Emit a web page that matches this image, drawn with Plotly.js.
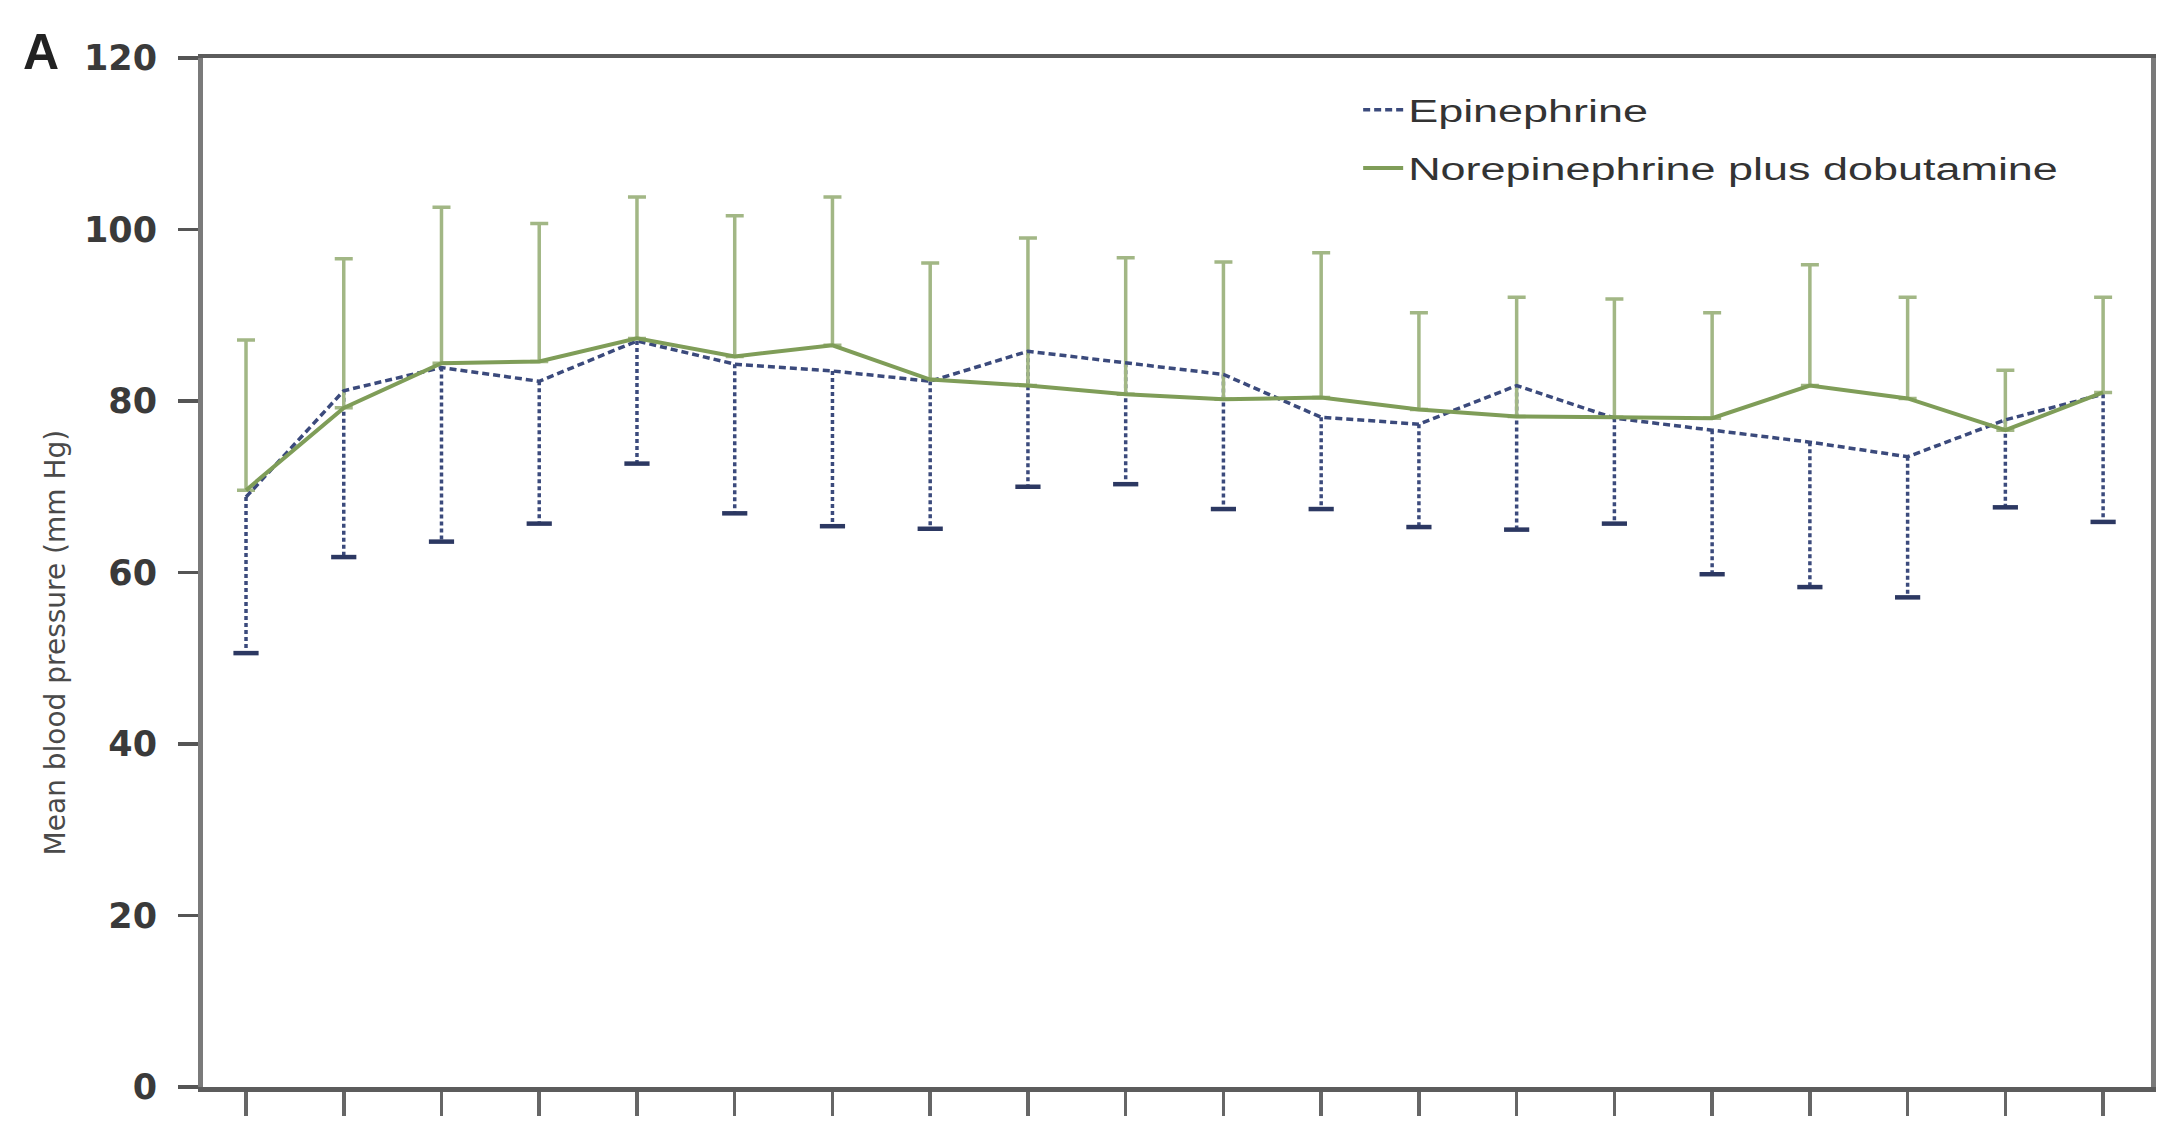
<!DOCTYPE html>
<html>
<head>
<meta charset="utf-8">
<script src="https://cdn.plot.ly/plotly-3.0.1.min.js"></script>
<style>html,body{margin:0;padding:0;background:#fff;}#chart{width:2179px;height:1128px;}</style>
</head>
<body>
<div id="chart"></div>
<script>
// Time points (tick labels are cut off in the reference)
const timePoints = [0, 1, 2, 3, 4, 5, 6, 7, 8, 9, 10, 11, 12, 13, 14, 15, 16, 17, 18, 19];

// Epinephrine: mean and SD (drawn downward)
const epiMean = [68.8, 81.2, 83.9, 82.3, 87.0, 84.3, 83.5, 82.3, 85.8, 84.4, 83.1, 78.1, 77.3, 81.8, 78.0, 76.6, 75.2, 73.5, 77.8, 80.8];
const epiSD   = [18.2, 19.4, 20.3, 16.6, 14.3, 17.4, 18.1, 17.2, 15.8, 14.1, 15.7, 10.7, 12.0, 16.8, 12.3, 16.8, 16.9, 16.4, 10.2, 14.9];

// Norepinephrine plus dobutamine: mean and SD (drawn upward)
const nedMean = [69.6, 79.2, 84.4, 84.6, 87.3, 85.2, 86.5, 82.5, 81.8, 80.8, 80.2, 80.4, 79.0, 78.2, 78.1, 78.0, 81.8, 80.3, 76.6, 81.0];
const nedSD   = [17.5, 17.4, 18.2, 16.1, 16.5, 16.4, 17.3, 13.6, 17.2, 15.9, 16.0, 16.9, 11.3, 13.9, 13.8, 12.3, 14.1, 11.8, 7.0, 11.1];

const yTicks = [0, 20, 40, 60, 80, 100, 120];

const BLUE = '#3b4a7c';
const BLUE_CAP = '#2c3862';
const GREEN = '#7f9d58';
const GREEN_BAR = '#a2b785';

// dashed stems for epinephrine SD (built from the data arrays)
const stemX = [], stemY = [];
timePoints.forEach((t, i) => {
  stemX.push(t, t, null);
  stemY.push(epiMean[i], epiMean[i] - epiSD[i], null);
});
const capY = epiMean.map((m, i) => m - epiSD[i]);

const FONT = 'Liberation Sans, Arial, sans-serif';
const WIDE = 'DejaVu Sans, Liberation Sans, sans-serif';

const traces = [
  {
    x: stemX, y: stemY, mode: 'lines', type: 'scatter', showlegend: false, hoverinfo: 'skip',
    line: {color: BLUE, width: 3.5, dash: '4px,3px'}
  },
  {
    x: timePoints, y: capY, mode: 'markers', type: 'scatter', showlegend: false, hoverinfo: 'skip',
    marker: {symbol: 'line-ew', size: 18, line: {color: BLUE_CAP, width: 4.5}}
  },
  {
    x: timePoints, y: nedMean, mode: 'lines', type: 'scatter', showlegend: false, hoverinfo: 'skip',
    line: {color: 'rgba(0,0,0,0)', width: 0},
    error_y: {type: 'data', symmetric: false, array: nedSD, arrayminus: nedSD.map(() => 0),
              color: GREEN_BAR, thickness: 3.5, width: 9}
  },
  {
    x: timePoints, y: epiMean, mode: 'lines', type: 'scatter', name: 'Epinephrine',
    legendgroup: 'a',
    line: {color: BLUE, width: 3.5, dash: '7px,4px'}
  },
  {
    x: timePoints, y: nedMean, mode: 'lines', type: 'scatter', name: 'Norepinephrine plus dobutamine',
    legendgroup: 'b',
    line: {color: GREEN, width: 4}
  }
];

const layout = {
  width: 2179, height: 1128,
  margin: {l: 203, r: 28, t: 58, b: 41},
  paper_bgcolor: '#ffffff', plot_bgcolor: '#ffffff',
  font: {family: FONT, color: '#333'},
  showlegend: true,
  legend: {
    x: 0.593, y: 0.9757, xanchor: 'left', yanchor: 'top',
    bgcolor: 'rgba(0,0,0,0)', borderwidth: 0,
    font: {family: FONT, size: 31, color: '#333'},
    tracegroupgap: 15, itemwidth: 40, traceorder: 'grouped'
  },
  xaxis: {
    range: [-0.44, 19.49],
    tickmode: 'array', tickvals: timePoints, showticklabels: false,
    ticks: 'outside', ticklen: 24, tickwidth: 3.5, tickcolor: '#666',
    showline: true, linecolor: '#5c5c5c', linewidth: 4.5, mirror: true,
    showgrid: false, zeroline: false, fixedrange: true
  },
  yaxis: {
    range: [0, 120],
    tickmode: 'array', tickvals: yTicks, ticktext: yTicks.map(String),
    ticks: 'outside', ticklen: 20, tickwidth: 3.5, tickcolor: '#555',
    ticklabelstandoff: 14,
    tickfont: {family: WIDE, size: 35, color: '#3a3a3a', weight: 'bold'},
    showline: true, linecolor: '#7a7a7a', linewidth: 5, mirror: true,
    showgrid: false, zeroline: false, fixedrange: true
  },
  annotations: [
    {text: 'A', xref: 'paper', yref: 'paper', x: -0.0933, y: 1.006, xanchor: 'left', yanchor: 'middle',
     showarrow: false, font: {family: FONT, size: 50, color: '#222', weight: 'bold'}},
    {text: 'Mean blood pressure (mm Hg)', xref: 'paper', yref: 'paper', x: -0.0755, y: 0.432,
     xanchor: 'center', yanchor: 'middle', textangle: -90, showarrow: false,
     font: {family: WIDE, size: 28, color: '#4a4a4a'}}
  ]
};

Plotly.newPlot('chart', traces, layout, {staticPlot: true, displayModeBar: false}).then(() => {
  // the reference legend lettering is horizontally wide; stretch the glyphs to match
  document.querySelectorAll('#chart .legend [clip-path]').forEach(e => e.removeAttribute('clip-path'));
  document.querySelectorAll('#chart .legendtext').forEach(t => {
    const w = t.getComputedTextLength();
    t.setAttribute('textLength', (w * 1.45).toFixed(1));
    t.setAttribute('lengthAdjust', 'spacingAndGlyphs');
  });
});
</script>
</body>
</html>
